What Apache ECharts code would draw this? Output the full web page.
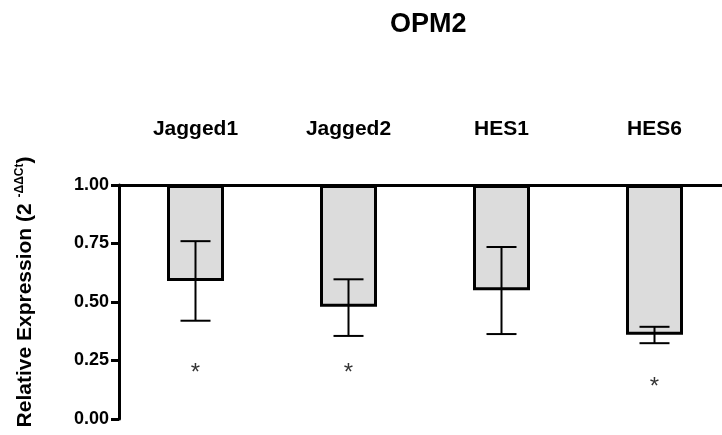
<!DOCTYPE html>
<html lang="en">

<head>
    <meta charset="UTF-8">
    <title>OPM2</title>
    <script src="https://cdn.jsdelivr.net/npm/echarts@6/dist/echarts.min.js"></script>
    <style>
        body { margin: 0; background: #fff; }
    </style>
</head>

<body>
    <div id="main" style="width: 722px;height: 435px;"></div>
    <script>
        // 数据
        var categories = ['Jagged1', 'Jagged2', 'HES1', 'HES6']
        var means = [0.59, 0.48, 0.55, 0.36]
        var errLow = [0.42, 0.355, 0.363, 0.324]
        var errHigh = [0.76, 0.597, 0.735, 0.394]
        var starY = [0.22, 0.22, null, 0.16]   // 星号位置
        var yTicks = [0, 0.25, 0.5, 0.75, 1]

        var font = "'Liberation Sans', Arial, sans-serif"

        // 柱子从1.00往下画：透明底 + 灰色部分
        var baseData = means
        var hangData = means.map(function (v) { return 1 - v })
        var errData = categories.map(function (c, i) { return [i, errLow[i], errHigh[i]] })
        var starData = []
        starY.forEach(function (v, i) { if (v != null) starData.push([i, v]) })

        var myCharts = echarts.init(document.getElementById('main'))
        var option = {
            animation: false,
            title: {
                text: 'OPM2',
                left: 385,
                top: 6,
                textStyle: { fontFamily: font, fontWeight: 'bold', fontSize: 27, color: '#000' }
            },
            grid: { left: 119, top: 185, width: 612, height: 234, outerBoundsMode: 'none', containLabel: false },
            xAxis: {
                type: 'category',
                position: 'top',
                data: categories,
                axisLine: { onZero: false, lineStyle: { color: '#000', width: 3 } },
                axisTick: { show: false },
                axisLabel: { margin: 45, color: '#000', fontFamily: font, fontWeight: 'bold', fontSize: 21 }
            },
            yAxis: {
                type: 'value',
                min: yTicks[0],
                max: yTicks[yTicks.length - 1],
                interval: 0.25,
                splitLine: { show: false },
                axisLine: { show: true, lineStyle: { color: '#000', width: 3 } },
                axisTick: { show: true, length: 8, lineStyle: { color: '#000', width: 3 } },
                axisLabel: {
                    margin: 10, color: '#000', fontFamily: font, fontWeight: 'bold', fontSize: 18,
                    formatter: function (v) { return v.toFixed(2) }
                },
                name: '{m|Relative Expression (2 }{s|-ΔΔCt}{m|)}',
                nameLocation: 'middle',
                nameGap: 83,
                nameTextStyle: {
                    padding: [0, 0, 0, 20],
                    rich: {
                        m: { fontFamily: font, fontWeight: 'bold', fontSize: 21, color: '#000', lineHeight: 22 },
                        s: { fontFamily: font, fontWeight: 'bold', fontSize: 12, color: '#000', lineHeight: 12, verticalAlign: 'top' }
                    }
                }
            },
            series: [
                {
                    type: 'bar',
                    stack: 'a',
                    data: baseData,
                    barWidth: 57,
                    itemStyle: { color: 'transparent' },
                    silent: true
                },
                {
                    type: 'bar',
                    stack: 'a',
                    data: hangData,
                    barWidth: 57,
                    itemStyle: { color: '#dcdcdc', borderColor: '#000', borderWidth: 3 }
                },
                {
                    // 误差线
                    type: 'custom',
                    z: 5,
                    data: errData,
                    renderItem: function (params, api) {
                        var lo = api.coord([api.value(0), api.value(1)])
                        var hi = api.coord([api.value(0), api.value(2)])
                        var w = 15
                        var st = { stroke: '#000', lineWidth: 2 }
                        return {
                            type: 'group',
                            children: [
                                { type: 'line', shape: { x1: hi[0], y1: hi[1], x2: lo[0], y2: lo[1] }, style: st },
                                { type: 'line', shape: { x1: hi[0] - w, y1: hi[1], x2: hi[0] + w, y2: hi[1] }, style: st },
                                { type: 'line', shape: { x1: lo[0] - w, y1: lo[1], x2: lo[0] + w, y2: lo[1] }, style: st }
                            ]
                        }
                    }
                },
                {
                    // 星号
                    type: 'scatter',
                    data: starData,
                    symbolSize: 0,
                    label: {
                        show: true,
                        position: 'inside',
                        offset: [0, 6],
                        formatter: '*',
                        color: '#000',
                        fontFamily: font,
                        fontSize: 24
                    }
                }
            ]
        }
        myCharts.setOption(option)
    </script>
</body>

</html>
